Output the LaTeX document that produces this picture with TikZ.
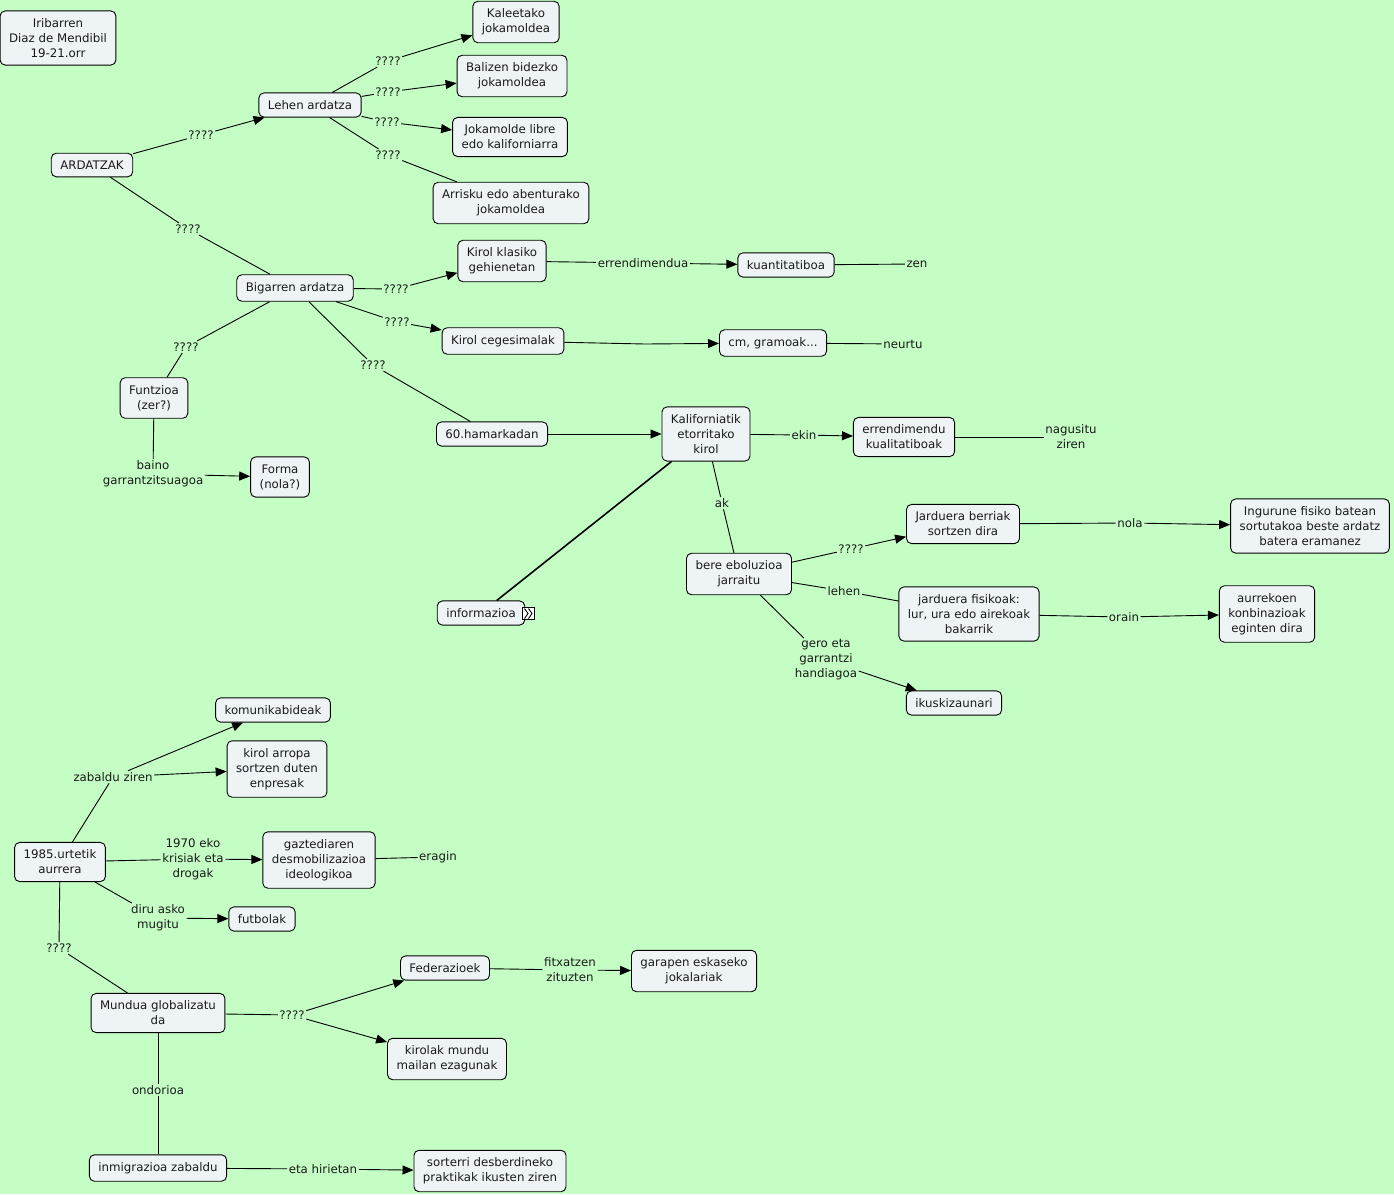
\documentclass[tikz,border=0pt]{standalone}
\usepackage{fontspec}
\setmainfont{DejaVu Sans}
\usetikzlibrary{arrows.meta}
\definecolor{bg}{HTML}{C4FEC4}
\definecolor{boxfill}{HTML}{EEF4F6}
\definecolor{txt}{HTML}{1A1A1A}
\begin{document}
\begin{tikzpicture}[x=1pt,y=-1pt,
  every node/.style={font=\fontsize{11.8}{15}\selectfont, text=txt},
  box/.style={draw=black, fill=boxfill, rounded corners=5pt, line width=0.9pt, align=center, inner xsep=9pt, inner ysep=7.5pt},
  lab/.style={inner sep=1.5pt, align=center},
  conn/.style={line width=0.9pt, draw=black},
  arr/.style={conn, -{Triangle[length=11pt,width=9pt]}}
]
\fill[bg] (0,0) rectangle (1394,1194);
\useasboundingbox (0,0) rectangle (1394,1194);

% boxes
\node[box] (irib) at (58,38) {Iribarren\\Diaz de Mendibil\\19-21.orr};
\node[box] (kale) at (516,22) {Kaleetako\\jokamoldea};
\node[box] (bali) at (512,76) {Balizen bidezko\\jokamoldea};
\node[box] (lehen) at (310,105) {Lehen ardatza};
\node[box] (libre) at (510,137) {Jokamolde libre\\edo kaliforniarra};
\node[box] (ardatzak) at (92,165) {ARDATZAK};
\node[box] (arrisku) at (511,203) {Arrisku edo abenturako\\jokamoldea};
\node[box] (klasiko) at (502,261) {Kirol klasiko\\gehienetan};
\node[box] (kuanti) at (786,265) {kuantitatiboa};
\node[box] (bigarren) at (295,288) {Bigarren ardatza};
\node[box] (ceges) at (503,341) {Kirol cegesimalak};
\node[box] (cm) at (773,343) {cm, gramoak...};
\node[box] (funtzioa) at (154,398) {Funtzioa\\(zer?)};
\node[box] (hamar) at (492,434) {60.hamarkadan};
\node[box] (kalif) at (706,434) {Kaliforniatik\\etorritako\\kirol};
\node[box] (kuali) at (904,437) {errendimendu\\kualitatiboak};
\node[box] (forma) at (280,477) {Forma\\(nola?)};
\node[box] (berriak) at (963,524) {Jarduera berriak\\sortzen dira};
\node[box] (ingurune) at (1310,526) {Ingurune fisiko batean\\sortutakoa beste ardatz\\batera eramanez};
\node[box] (bere) at (739,574) {bere eboluzioa\\jarraitu};
\node[box] (fisikoak) at (969,614) {jarduera fisikoak:\\lur, ura edo airekoak\\bakarrik};
\node[box] (aurrekoen) at (1267,614) {aurrekoen\\konbinazioak\\eginten dira};
\node[box] (info) at (481,613) {informazioa};
\node[draw=black, fill=white, line width=0.8pt, minimum size=12pt, inner sep=0pt] (infoicon) at (528.5,613.5) {};
\draw[line width=0.9pt] (524.5,608.5) -- (528,613.5) -- (524.5,618.5);
\draw[line width=0.9pt] (528.5,608.5) -- (532,613.5) -- (528.5,618.5);
\node[box] (ikus) at (954,703) {ikuskizaunari};
\node[box] (komun) at (273,710) {komunikabideak};
\node[box] (arropa) at (277,769) {kirol arropa\\sortzen duten\\enpresak};
\node[box] (urte) at (60,862) {1985.urtetik\\aurrera};
\node[box] (gazte) at (319,860) {gaztediaren\\desmobilizazioa\\ideologikoa};
\node[box] (futbol) at (262,919) {futbolak};
\node[box] (feder) at (445,968) {Federazioek};
\node[box] (garapen) at (694,971) {garapen eskaseko\\jokalariak};
\node[box] (mundua) at (158,1013) {Mundua globalizatu\\da};
\node[box] (kirolak) at (447,1059) {kirolak mundu\\mailan ezagunak};
\node[box] (inmig) at (158,1168) {inmigrazioa zabaldu};
\node[box] (sorterri) at (490,1171) {sorterri desberdineko\\praktikak ikusten ziren};

% labels
\node[lab] (l1) at (201,135) {????};
\node[lab] (l2) at (188,229) {????};
\node[lab] (l3) at (388,61) {????};
\node[lab] (l4) at (388,92) {????};
\node[lab] (l5) at (387,122) {????};
\node[lab] (l6) at (388,155) {????};
\node[lab] (l7) at (396,289) {????};
\node[lab] (l8) at (397,322) {????};
\node[lab] (l9) at (373,365) {????};
\node[lab] (l10) at (186,347) {????};
\node[lab] (l11) at (153,474) {baino\\garrantzitsuagoa};
\node[lab] (l12) at (643,263) {errendimendua};
\node[lab] (zen) at (917,264) {zen};
\coordinate (l13) at (645,344);
\node[lab] (neurtu) at (903,344) {neurtu};
\node[lab] (l14) at (804,435) {ekin};
\node[lab] (nagusi) at (1071,437) {nagusitu\\ziren};
\node[lab] (l15) at (722,503) {ak};
\node[lab] (l16) at (851,549) {????};
\node[lab] (l17) at (844,591) {lehen};
\node[lab] (l18) at (826,660) {gero eta\\garrantzi\\handiagoa};
\node[lab] (l19) at (1130,523) {nola};
\node[lab] (l20) at (1124,617) {orain};
\node[lab] (l21) at (113,777) {zabaldu ziren};
\node[lab] (l22) at (193,859) {1970 eko\\krisiak eta\\drogak};
\node[lab] (eragin) at (438,857) {eragin};
\node[lab] (l23) at (158,918) {diru asko\\mugitu};
\node[lab] (l24) at (59,948) {????};
\node[lab] (l25) at (292,1015) {????};
\node[lab] (l26) at (570,970) {fitxatzen\\zituzten};
\node[lab] (l27) at (158,1090) {ondorioa};
\node[lab] (l28) at (323,1169) {eta hirietan};

% connectors
\draw[conn] (ardatzak) -- (l1); \draw[arr] (l1) -- (lehen);
\draw[conn] (ardatzak) -- (l2); \draw[conn] (l2) -- (bigarren);
\draw[conn] (lehen) -- (l3); \draw[arr] (l3) -- (kale);
\draw[conn] (lehen) -- (l4); \draw[arr] (l4) -- (bali);
\draw[conn] (lehen) -- (l5); \draw[arr] (l5) -- (libre);
\draw[conn] (lehen) -- (l6); \draw[conn] (l6) -- (arrisku);
\draw[conn] (bigarren) -- (l7); \draw[arr] (l7) -- (klasiko);
\draw[conn] (bigarren) -- (l8); \draw[arr] (l8) -- (ceges);
\draw[conn] (bigarren) -- (l9); \draw[conn] (l9) -- (hamar);
\draw[conn] (bigarren) -- (l10); \draw[conn] (l10) -- (funtzioa);
\draw[conn] (funtzioa) -- (l11); \draw[arr] (l11) -- (forma);
\draw[conn] (klasiko) -- (l12); \draw[arr] (l12) -- (kuanti);
\draw[conn] (kuanti) -- (zen);
\draw[conn] (ceges) -- (l13); \draw[arr] (l13) -- (cm);
\draw[conn] (cm) -- (neurtu);
\draw[arr] (hamar) -- (kalif);
\draw[conn] (kalif) -- (l14); \draw[arr] (l14) -- (kuali);
\draw[conn] (kuali) -- (nagusi);
\draw[conn] (kalif) -- (l15); \draw[conn] (l15) -- (bere);
\draw[line width=1.6pt] (kalif) -- (info);
\draw[conn] (bere) -- (l16); \draw[arr] (l16) -- (berriak);
\draw[conn] (bere) -- (l17); \draw[conn] (l17) -- (fisikoak);
\draw[conn] (bere) -- (l18); \draw[arr] (l18) -- (ikus);
\draw[conn] (berriak) -- (l19); \draw[arr] (l19) -- (ingurune);
\draw[conn] (fisikoak) -- (l20); \draw[arr] (l20) -- (aurrekoen);
\draw[conn] (urte) -- (l21); \draw[arr] (l21) -- (komun); \draw[arr] (l21) -- (arropa);
\draw[conn] (urte) -- (l22); \draw[arr] (l22) -- (gazte);
\draw[conn] (gazte) -- (eragin);
\draw[conn] (urte) -- (l23); \draw[arr] (l23) -- (futbol);
\draw[conn] (urte) -- (l24); \draw[conn] (l24) -- (mundua);
\draw[conn] (mundua) -- (l25); \draw[arr] (l25) -- (feder); \draw[arr] (l25) -- (kirolak);
\draw[conn] (feder) -- (l26); \draw[arr] (l26) -- (garapen);
\draw[conn] (mundua) -- (l27); \draw[conn] (l27) -- (inmig);
\draw[conn] (inmig) -- (l28); \draw[arr] (l28) -- (sorterri);
\end{tikzpicture}
\end{document}
